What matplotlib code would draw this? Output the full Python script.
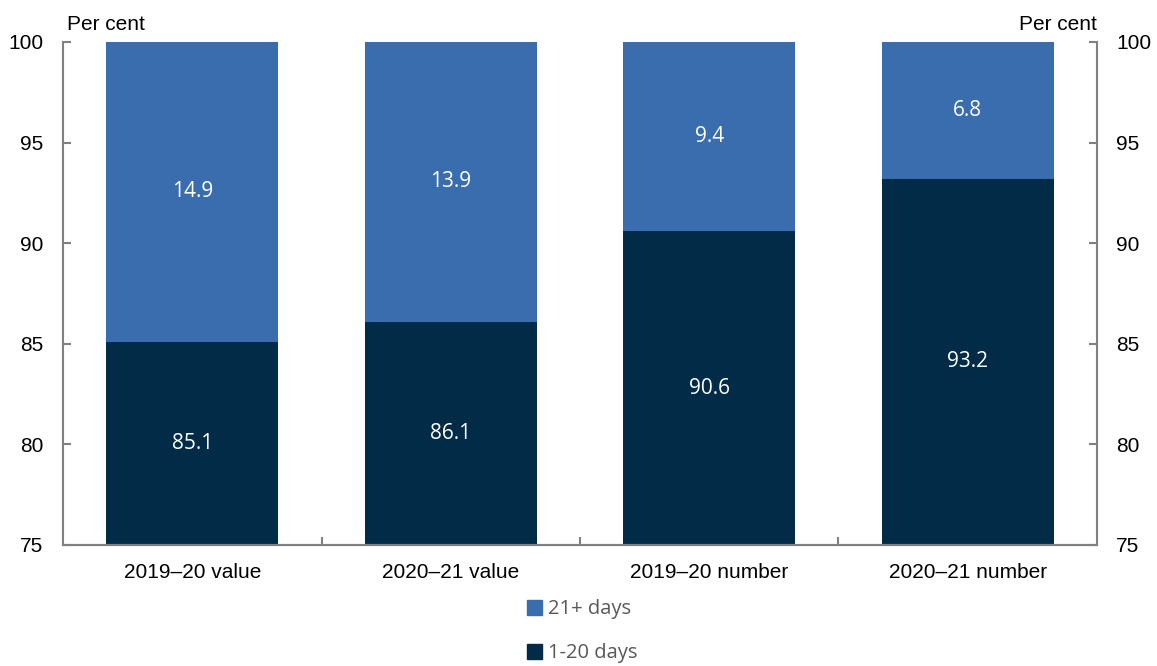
import numpy as np
import matplotlib
matplotlib.use("Agg")
import matplotlib.pyplot as plt
from matplotlib.patches import Patch

categories = ["2019\u201320 value", "2020\u201321 value", "2019\u201320 number", "2020\u201321 number"]
short_stay = [85.1, 86.1, 90.6, 93.2]   # 1-20 days
long_stay = [14.9, 13.9, 9.4, 6.8]      # 21+ days

c_light = "#3A6DAD"
c_dark = "#022B47"
c_axis = "#808080"

plt.rcParams["font.family"] = ["Liberation Sans", "DejaVu Sans"]

fig = plt.figure(figsize=(11.57, 6.66), dpi=100)
ax = fig.add_axes([0.0545, 0.1817, 0.8935, 0.7553])

x = np.arange(len(categories))
w = 0.665
ax.bar(x, short_stay, w, color=c_dark, zorder=2)
ax.bar(x, long_stay, w, bottom=short_stay, color=c_light, zorder=2)

ymin, ymax = 75, 100
for i in range(len(categories)):
    y1 = (ymin + short_stay[i]) / 2
    y2 = short_stay[i] + long_stay[i] / 2
    ax.text(x[i], y1, f"{short_stay[i]:.1f}", color="white", ha="center", va="center",
            fontsize=15, family="Open Sans")
    ax.text(x[i], y2, f"{long_stay[i]:.1f}", color="white", ha="center", va="center",
            fontsize=15, family="Open Sans")

ax.set_xlim(-0.5, len(categories) - 0.5)
ax.set_ylim(ymin, ymax)
ax.set_yticks(np.arange(75, 101, 5))
ax.set_xticks(x)
ax.set_xticklabels(categories, fontsize=15)
ax.set_xticks(np.arange(0.5, len(categories) - 0.5, 1), minor=True)
ax.tick_params(axis="x", which="major", length=0, pad=13)
ax.tick_params(axis="x", which="minor", direction="in", length=6, width=1.5, color=c_axis)
ax.tick_params(axis="y", direction="in", length=6, width=1.5, color=c_axis, labelsize=15, pad=14)

ax2 = ax.twinx()
ax2.set_ylim(ymin, ymax)
ax2.set_yticks(np.arange(75, 101, 5))
ax2.tick_params(axis="y", direction="in", length=6, width=1.5, color=c_axis, labelsize=15, pad=14)

for a in (ax, ax2):
    a.spines["top"].set_visible(False)
    for s in ("left", "right", "bottom"):
        a.spines[s].set_color(c_axis)
        a.spines[s].set_linewidth(1.5)
ax.spines["right"].set_visible(False)
ax2.spines["left"].set_visible(False)

fig.text(0.058, 0.949, "Per cent", fontsize=15, ha="left", va="bottom")
fig.text(0.948, 0.949, "Per cent", fontsize=15, ha="right", va="bottom")

handles = [Patch(color=c_light, label="21+ days"), Patch(color=c_dark, label="1-20 days")]
leg = fig.legend(handles=handles, loc="center", bbox_to_anchor=(0.503, 0.052), ncol=1,
                 frameon=False, handlelength=0.75, handleheight=0.75, handletextpad=0.3,
                 labelspacing=1.2, prop={"family": "Open Sans", "size": 14.5})
for t in leg.get_texts():
    t.set_color("#595959")

fig.savefig("out.png", dpi=100)
